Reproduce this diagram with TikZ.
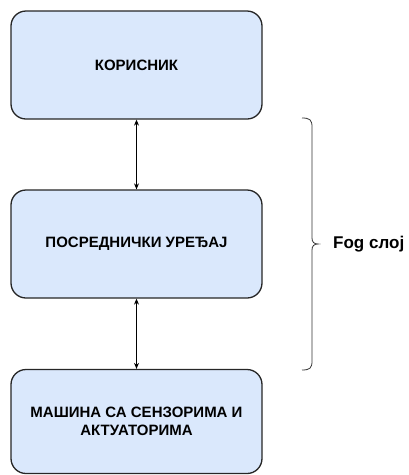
\documentclass[tikz,border=0pt]{standalone}
\usepackage{fontspec}
\setmainfont{Liberation Sans}
\usetikzlibrary{arrows.meta}
\definecolor{boxfill}{HTML}{DAE8FC}
\tikzset{
  box/.style={draw=black!85, line width=1.3pt, fill=boxfill, rounded corners=15pt,
    minimum width=251pt, minimum height=108pt, inner sep=0pt, align=center,
    font=\fontsize{15}{18}\selectfont\bfseries},
  conn/.style={line width=0.8pt, {Stealth[length=6pt,width=5pt]}-{Stealth[length=6pt,width=5pt]}},
  bracestyle/.style={line width=0.8pt, draw=black!80},
  lbl/.style={font=\fontsize{17}{20}\selectfont\bfseries, anchor=west, inner sep=0pt}
}
\begin{document}
\begin{tikzpicture}[x=1pt,y=1pt]
\useasboundingbox (0,0) rectangle (408,-475);
\node[box] (k) at (136.5,-65) {КОРИСНИК};
\node[box] (p) at (136.5,-244) {ПОСРЕДНИЧКИ УРЕЂАЈ};
\node[box, minimum height=104pt] (m) at (136.5,-421.5) {МАШИНА СА СЕНЗОРИМА И\\АКТУАТОРИМА};
\draw[conn] (k.south) -- (p.north);
\draw[conn] (p.south) -- (m.north);
\coordinate (bt) at (302,-118);
\coordinate (bb) at (302,-370);
\coordinate (tip) at (318,-244);
\draw[bracestyle] (bt) .. controls (310,-118) and (312,-120) .. (312,-127)
  -- (312,-238) .. controls (312,-242) and (314,-244) .. (tip)
  .. controls (314,-244) and (312,-246) .. (312,-250)
  -- (312,-361) .. controls (312,-368) and (310,-370) .. (bb);
\node[lbl] (fog) at (333,-244) {Fog слој};
\end{tikzpicture}
\end{document}
